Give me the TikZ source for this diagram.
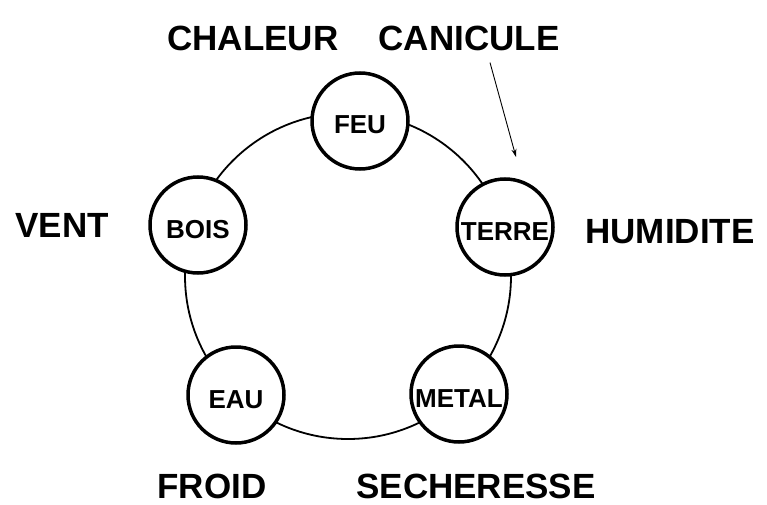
\documentclass[tikz,border=0pt]{standalone}
\usepackage{fontspec}
\setmainfont{Liberation Sans}
\usetikzlibrary{arrows.meta}
\begin{document}
\begin{tikzpicture}[x=1pt,y=-1pt,
  elem/.style={circle,draw,line width=3.5pt,fill=white,minimum size=96pt,inner sep=0pt,
    font=\bfseries\fontsize{26}{26}\selectfont,text height=26pt,text depth=0pt},
  qual/.style={font=\bfseries\fontsize{35}{35}\selectfont,inner sep=0pt},
  ring/.style={line width=1.8pt},
  pointer/.style={line width=0.9pt,-{Stealth[length=8pt,width=5pt]}}]
\useasboundingbox (0,0) rectangle (767,505);
\draw[ring] (348,276) circle (163);
\node[elem] (feu) at (360,121) {FEU};
\node[elem] (terre) at (505,227) {TERRE};
\node[elem] (metal) at (459,394) {METAL};
\node[elem] (eau) at (236,395) {EAU};
\node[elem] (bois) at (198,225) {BOIS};
\node[qual] (chaleur) at (253,38) {CHALEUR};
\node[qual] (canicule) at (469,38) {CANICULE};
\node[qual] (vent) at (62,225) {VENT};
\node[qual] (humidite) at (670,232) {HUMIDITE};
\node[qual] (froid) at (212,486) {FROID};
\node[qual] (secheresse) at (476,486) {SECHERESSE};
\coordinate (canstart) at ([xshift=21pt,yshift=-12pt]canicule.south);
\coordinate (canend) at (516,157);
\draw[pointer] (canstart) -- (canend);
\end{tikzpicture}
\end{document}
